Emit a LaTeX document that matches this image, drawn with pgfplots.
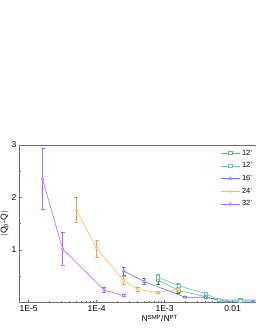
\documentclass[border=0pt]{standalone}
\usepackage{pgfplots}
\pgfplotsset{compat=1.18}
\usepackage{fontspec}
\setmainfont{Liberation Sans}
\definecolor{cgreen}{RGB}{100,185,100}
\definecolor{cgreendk}{RGB}{30,140,50}
\definecolor{cteal}{RGB}{95,200,185}
\definecolor{cblue}{RGB}{110,110,220}
\definecolor{corange}{RGB}{255,180,100}
\definecolor{corangedk}{RGB}{240,160,70}
\definecolor{cpurple}{RGB}{180,100,255}
\definecolor{caxis}{RGB}{110,110,110}
\begin{document}
\begin{tikzpicture}
\begin{axis}[
  at={(19pt,27.5pt)}, anchor=south west,
  scale only axis, width=281.5pt, height=157.5pt,
  xmode=log, xmin=7.2e-6, xmax=0.1,
  ymin=0, ymax=3,
  axis line style={caxis, line width=0.8pt},
  every tick/.style={caxis, line width=0.6pt},
  tick align=inside, xtick pos=left, ytick pos=left,
  major tick length=3pt, minor tick length=2pt,
  xtick={1e-5,1e-4,1e-3,1e-2},
  xticklabels={1E-5,1E-4,1E-3,0.01},
  ytick={1,2,3}, minor ytick={0.5,1.5,2.5},
  /pgf/number format/assume math mode=true,
  tick label style={font=\fontsize{8.5}{10}\selectfont},
  yticklabel style={xshift=1pt},
  xlabel={N$^{\mathrm{SMP}}$/N$^{\mathrm{PT}}$},
  ylabel={$|$Q$_\mathrm{p}$-Q$|$},
  label style={font=\fontsize{8.5}{10}\selectfont},
  xlabel style={yshift=4pt},
  ylabel style={yshift=-4pt},
  legend style={at={(axis description cs:0.712,0.99)}, anchor=north west,
    draw=none, fill=none, font=\fontsize{7.5}{9}\selectfont, row sep=2pt,
    inner sep=1pt},
  legend cell align=left,
  legend image code/.code={
    \draw[mark repeat=2,mark phase=2] plot coordinates {(0cm,0cm) (0.33cm,0cm) (0.66cm,0cm)};},
  every axis plot/.append style={line width=0.6pt, mark size=1.6pt, mark options={solid, fill=white}},
  error bars/error bar style={line width=0.6pt},
  error bars/error mark options={rotate=90, mark size=2pt, line width=0.6pt},
]
\addplot[cgreen, mark=square*, error bars/.cd, y dir=both, y explicit, error bar style={cgreendk}, error mark options={rotate=90, mark size=2pt, cgreendk}] coordinates {
 (8e-4,0.43) +- (0,0.08)
 (1.6e-3,0.23) +- (0,0.05)
 (4e-3,0.11) +- (0,0.02)
 (6.3e-3,0.05) +- (0,0.02)
 (1.3e-2,0.05) +- (0,0.02)
 (2.6e-2,0.05) +- (0,0.02)
};
\addlegendentry{12'}
\addplot[cteal, mark=square*, error bars/.cd, y dir=both, y explicit] coordinates {
 (8e-4,0.48) +- (0,0.05)
 (1.6e-3,0.32) +- (0,0.04)
 (4e-3,0.17) +- (0,0.02)
 (6.3e-3,0.05) +- (0,0.01)
 (1.3e-2,0.04) +- (0,0.01)
 (2.6e-2,0.04) +- (0,0.01)
};
\addlegendentry{12'}
\addplot[cblue, mark=triangle*, error bars/.cd, y dir=both, y explicit] coordinates {
 (2.5e-4,0.60) +- (0,0.08)
 (5.0e-4,0.40) +- (0,0.06)
 (2.0e-3,0.10) +- (0,0.01)
 (4.0e-3,0.10) +- (0,0.01)
 (8.2e-3,0.015) +- (0,0.005)
 (2.0e-2,0.01) +- (0,0.005)
};
\addlegendentry{16'}
\addplot[corange, mark=triangle*, mark options={solid, fill=white, rotate=180}, error bars/.cd, y dir=both, y explicit, error bar style={corangedk}] coordinates {
 (5.05e-5,1.76) +- (0,0.24)
 (1.0e-4,1.03) +- (0,0.16)
 (2.5e-4,0.42) +- (0,0.08)
 (4.0e-4,0.25) +- (0,0.03)
 (7.9e-4,0.19) +- (0,0.02)
 (1.6e-3,0.25) +- (0,0.03)
};
\addlegendentry{24'}
\addplot[cpurple, mark=diamond*, error bars/.cd, y dir=both, y explicit] coordinates {
 (1.6e-5,2.35) +- (0,0.58)
 (3.15e-5,1.02) +- (0,0.32)
 (1.28e-4,0.24) +- (0,0.05)
 (2.5e-4,0.13) +- (0,0.02)
};
\addlegendentry{32'}
\end{axis}
\pgfresetboundingbox
\path[use as bounding box] (0pt,0pt) rectangle (255pt,330pt);
\end{tikzpicture}
\end{document}
